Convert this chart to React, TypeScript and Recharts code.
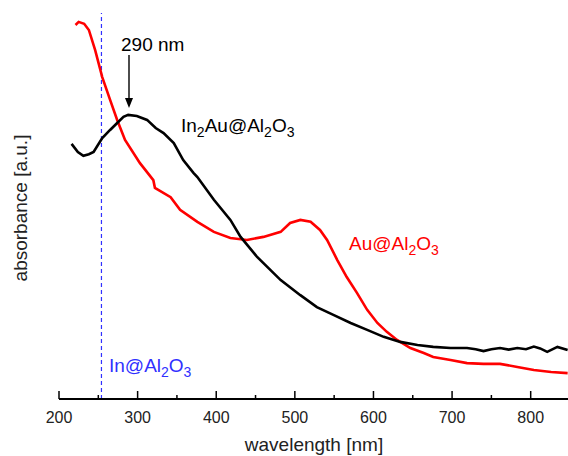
import React from "react";
import {
  LineChart,
  Line,
  XAxis,
  YAxis,
  ReferenceLine,
  Customized,
} from "recharts";

// In2Au@Al2O3 (black)
const in2auNm = [216, 224, 231, 238, 244, 255, 265, 274, 282, 288, 299, 312, 323, 333, 346, 358, 371, 376, 397, 418, 431, 452, 482, 507, 528, 549, 571, 592, 613, 634, 656, 676, 698, 719, 730, 740, 750, 761, 772, 783, 794, 804, 812, 821, 834, 847];
const in2auAbs = [66.1, 64.0, 63.0, 63.4, 64.0, 67.6, 69.7, 71.5, 73.1, 73.6, 73.3, 72.3, 70.2, 68.9, 66.3, 61.9, 58.6, 57.5, 51.6, 46.4, 42.0, 36.8, 30.8, 26.9, 23.8, 21.8, 19.7, 17.9, 16.1, 14.8, 14.0, 13.5, 13.2, 13.2, 12.9, 12.4, 12.9, 13.2, 12.8, 13.2, 12.9, 13.6, 13.1, 12.2, 13.5, 12.7];

// Au@Al2O3 (red)
const auNm = [221, 225, 232, 238, 246, 255, 265, 274, 284, 303, 320, 322, 342, 354, 376, 397, 418, 439, 460, 482, 494, 507, 520, 532, 541, 554, 566, 579, 592, 605, 617, 630, 647, 664, 676, 698, 719, 740, 761, 783, 804, 826, 847];
const auAbs = [96.9, 97.7, 97.2, 95.6, 90.4, 83.4, 77.5, 72.3, 67.1, 61.1, 56.7, 54.7, 52.3, 49.0, 45.9, 43.3, 41.7, 41.2, 42.0, 43.3, 45.6, 46.4, 45.9, 43.8, 41.2, 36.0, 31.6, 27.5, 23.1, 19.7, 17.4, 15.3, 13.2, 11.9, 10.9, 10.1, 9.3, 9.1, 9.1, 8.3, 7.5, 7.0, 6.7];

// In@Al2O3 marker wavelength and x ticks
const inMarkerNm = 254;
const xTicks = [200, 250, 300, 350, 400, 450, 500, 550, 600, 650, 700, 750, 800];

const in2auData = in2auNm.map((nm, i) => ({ nm, abs: in2auAbs[i] }));
const auData = auNm.map((nm, i) => ({ nm, abs: auAbs[i] }));

const FONT = "'Liberation Sans', Arial, sans-serif";
const BLUE = "#3030ff";

function XTick(props: any) {
  const { x, y, payload } = props;
  const major = payload.value % 100 === 0;
  return (
    <g>
      <line x1={x} x2={x} y1={y} y2={y - (major ? 8 : 4)} stroke="#000" strokeWidth={1.5} />
      {major && (
        <text x={x} y={y + 24} textAnchor="middle" fontSize={16} fontFamily={FONT} fill="#222">
          {payload.value}
        </text>
      )}
    </g>
  );
}

function Annotations() {
  return (
    <g fontFamily={FONT}>
      <text x={121} y={51} fontSize={19} fill="#000">290 nm</text>
      <line x1={129} x2={129} y1={55} y2={100} stroke="#000" strokeWidth={1.4} />
      <polygon points="125,98 133,98 129,108" fill="#000" />
      <text x={181} y={132} fontSize={19} fill="#000">
        In<tspan fontSize={14} dy={5}>2</tspan>
        <tspan dy={-5}>Au@Al</tspan>
        <tspan fontSize={14} dy={5}>2</tspan>
        <tspan dy={-5}>O</tspan>
        <tspan fontSize={14} dy={5}>3</tspan>
      </text>
      <text x={349} y={250} fontSize={19} fill="#ff0000">
        Au@Al<tspan fontSize={14} dy={5}>2</tspan>
        <tspan dy={-5}>O</tspan>
        <tspan fontSize={14} dy={5}>3</tspan>
      </text>
      <text x={109} y={372} fontSize={19} fill={BLUE}>
        In@Al<tspan fontSize={14} dy={5}>2</tspan>
        <tspan dy={-5}>O</tspan>
        <tspan fontSize={14} dy={5}>3</tspan>
      </text>
      <text x={314} y={451} fontSize={19} textAnchor="middle" fill="#222">
        wavelength [nm]
      </text>
      <text
        transform="translate(27,208) rotate(-90)"
        fontSize={19}
        textAnchor="middle"
        fill="#222"
      >
        absorbance [a.u.]
      </text>
    </g>
  );
}

export default function App() {
  return (
    <div
      style={{
        position: "fixed",
        left: 0,
        top: 0,
        width: 568,
        height: 456,
        overflow: "hidden",
        background: "#fff",
      }}
    >
      <LineChart
        width={580}
        height={456}
        margin={{ top: 13, right: 10, bottom: 0, left: 59 }}
      >
        <XAxis
          xAxisId="top"
          orientation="top"
          type="number"
          dataKey="nm"
          domain={[200, 850]}
          height={0}
          tick={false}
          tickLine={false}
          axisLine={{ stroke: "#000", strokeWidth: 2 }}
        />
        <XAxis
          type="number"
          dataKey="nm"
          domain={[200, 850]}
          allowDataOverflow
          ticks={xTicks}
          interval={0}
          height={57}
          tickSize={0}
          tickMargin={0}
          tickLine={false}
          tick={<XTick />}
          axisLine={{ stroke: "#000", strokeWidth: 2 }}
        />
        <YAxis
          type="number"
          domain={[0, 100]}
          width={0}
          tick={false}
          tickLine={false}
          axisLine={{ stroke: "#000", strokeWidth: 2 }}
        />
        <ReferenceLine
          x={inMarkerNm}
          stroke={BLUE}
          strokeWidth={1.2}
          strokeDasharray="4 3"
        />
        <Line
          data={auData}
          dataKey="abs"
          type="linear"
          stroke="#ff0000"
          strokeWidth={2.6}
          dot={false}
          isAnimationActive={false}
        />
        <Line
          data={in2auData}
          dataKey="abs"
          type="linear"
          stroke="#000"
          strokeWidth={2.6}
          dot={false}
          isAnimationActive={false}
        />
        <Customized component={Annotations} />
      </LineChart>
    </div>
  );
}
